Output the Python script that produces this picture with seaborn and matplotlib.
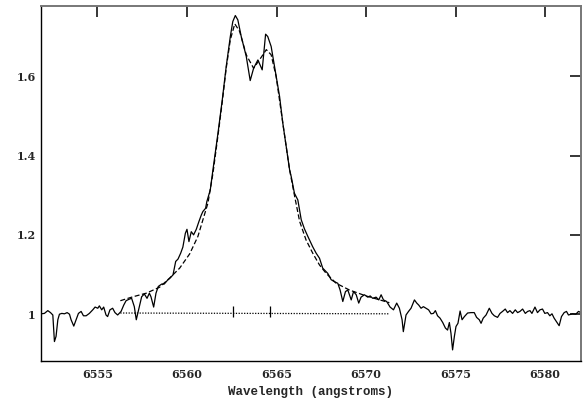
import matplotlib
matplotlib.use("Agg")
import matplotlib.pyplot as plt
import seaborn as sns
import pandas as pd

# Observed spectrum (wavelength in angstroms, normalized flux)
obs_wave = [6551.86, 6552.04, 6552.23, 6552.38, 6552.51, 6552.60, 6552.69, 6552.79, 6552.88, 6553.01,
            6553.16, 6553.31, 6553.44, 6553.53, 6553.68, 6553.81, 6553.94, 6554.09, 6554.22, 6554.37,
            6554.55, 6554.74, 6554.87, 6555.02, 6555.11, 6555.24, 6555.35, 6555.48, 6555.57, 6555.70,
            6555.85, 6555.98, 6556.13, 6556.32, 6556.47, 6556.60, 6556.78, 6556.91, 6557.06, 6557.17,
            6557.34, 6557.47, 6557.62, 6557.77, 6557.90, 6557.99, 6558.14, 6558.27, 6558.40, 6558.59,
            6558.73, 6558.92, 6559.03, 6559.22, 6559.37, 6559.50, 6559.65, 6559.77, 6559.91, 6560.00,
            6560.11, 6560.24, 6560.37, 6560.52, 6560.67, 6560.80, 6560.89, 6561.04, 6561.11, 6561.22,
            6561.30, 6561.45, 6561.73, 6561.97, 6562.19, 6562.42, 6562.56, 6562.70, 6562.84, 6563.03,
            6563.31, 6563.53, 6563.72, 6563.96, 6564.20, 6564.39, 6564.51, 6564.70, 6564.98, 6565.17,
            6565.35, 6565.54, 6565.73, 6565.82, 6566.00, 6566.19, 6566.38, 6566.56, 6566.75, 6567.02,
            6567.21, 6567.40, 6567.58, 6567.86, 6568.05, 6568.23, 6568.42, 6568.55, 6568.70, 6568.85,
            6568.98, 6569.17, 6569.30, 6569.45, 6569.59, 6569.72, 6569.91, 6570.09, 6570.23, 6570.37,
            6570.56, 6570.71, 6570.84, 6570.97, 6571.15, 6571.34, 6571.53, 6571.71, 6571.86, 6572.01,
            6572.08, 6572.23, 6572.37, 6572.51, 6572.70, 6572.83, 6572.94, 6573.07, 6573.20, 6573.35,
            6573.49, 6573.63, 6573.76, 6573.87, 6573.99, 6574.13, 6574.28, 6574.43, 6574.55, 6574.65,
            6574.74, 6574.83, 6574.93, 6575.02, 6575.13, 6575.25, 6575.36, 6575.49, 6575.67, 6575.86,
            6576.04, 6576.17, 6576.32, 6576.42, 6576.54, 6576.70, 6576.88, 6577.03, 6577.16, 6577.34,
            6577.48, 6577.62, 6577.77, 6577.90, 6578.03, 6578.18, 6578.33, 6578.46, 6578.59, 6578.74,
            6578.89, 6579.02, 6579.15, 6579.26, 6579.43, 6579.57, 6579.71, 6579.85, 6579.98, 6580.13,
            6580.26, 6580.38, 6580.50, 6580.63, 6580.78, 6580.91, 6581.06, 6581.19, 6581.30, 6581.52,
            6581.71, 6581.86, 6582.00]
obs_flux = [1.001, 1.002, 1.009, 1.004, 0.998, 0.931, 0.944, 0.986, 1.000, 1.002,
            1.001, 1.004, 1.000, 0.986, 0.970, 0.986, 1.002, 1.007, 0.996, 0.996,
            1.002, 1.011, 1.018, 1.015, 1.021, 1.011, 1.018, 0.998, 0.994, 1.011,
            1.015, 1.004, 0.998, 1.007, 1.023, 1.034, 1.038, 1.040, 1.019, 0.986,
            1.019, 1.044, 1.051, 1.040, 1.053, 1.044, 1.018, 1.053, 1.070, 1.076,
            1.076, 1.086, 1.090, 1.099, 1.133, 1.139, 1.154, 1.169, 1.204, 1.214,
            1.183, 1.208, 1.200, 1.214, 1.234, 1.250, 1.259, 1.267, 1.284, 1.301,
            1.313, 1.364, 1.456, 1.540, 1.624, 1.700, 1.738, 1.753, 1.742, 1.700,
            1.650, 1.589, 1.620, 1.641, 1.616, 1.706, 1.700, 1.675, 1.599, 1.549,
            1.482, 1.423, 1.364, 1.347, 1.305, 1.288, 1.238, 1.215, 1.196, 1.170,
            1.154, 1.141, 1.116, 1.103, 1.087, 1.082, 1.078, 1.061, 1.032, 1.057,
            1.061, 1.036, 1.057, 1.049, 1.028, 1.043, 1.049, 1.043, 1.046, 1.040,
            1.043, 1.036, 1.049, 1.036, 1.032, 1.018, 1.011, 1.028, 1.015, 0.986,
            0.956, 0.998, 1.007, 1.015, 1.036, 1.028, 1.023, 1.015, 1.019, 1.015,
            1.011, 1.001, 1.002, 1.009, 0.996, 0.990, 0.979, 0.965, 0.960, 0.979,
            0.952, 0.910, 0.944, 0.969, 0.977, 1.008, 0.986, 0.994, 1.003, 1.004,
            1.004, 0.992, 0.986, 0.977, 0.990, 0.998, 1.015, 1.002, 0.996, 0.992,
            1.002, 1.007, 1.013, 1.004, 1.009, 1.002, 1.011, 1.004, 1.007, 1.013,
            1.002, 1.007, 1.009, 1.002, 1.018, 1.004, 1.011, 1.013, 1.002, 1.004,
            0.996, 1.001, 0.990, 0.981, 0.971, 0.994, 1.004, 1.007, 0.998, 1.001,
            1.000, 1.007, 1.004]

# Fitted profile (dashed)
fit_wave = [6556.28, 6556.99, 6557.73, 6558.47, 6559.03, 6559.59, 6560.15, 6560.61, 6560.89, 6561.17,
            6561.45, 6561.73, 6561.97, 6562.19, 6562.42, 6562.67, 6562.94, 6563.31, 6563.72, 6564.15,
            6564.43, 6564.70, 6564.98, 6565.35, 6565.73, 6566.00, 6566.29, 6566.65, 6567.02, 6567.40,
            6567.77, 6568.33, 6569.07, 6570.00, 6571.30]
fit_flux = [1.034, 1.044, 1.053, 1.068, 1.091, 1.116, 1.152, 1.196, 1.238, 1.280,
            1.355, 1.450, 1.535, 1.620, 1.692, 1.732, 1.713, 1.654, 1.620, 1.648,
            1.667, 1.654, 1.599, 1.482, 1.364, 1.300, 1.234, 1.187, 1.154, 1.124,
            1.103, 1.078, 1.061, 1.046, 1.029]

# Continuum (dotted)
cont_wave = [6556.28, 6571.30]
cont_flux = [1.003, 1.001]

# Component centre markers
line_centers = [6562.56, 6564.61]
marker_level = 1.006
marker_half = 0.014

x_ticks = [6555, 6560, 6565, 6570, 6575, 6580]
x_labels = ["6555", "6560", "6565", "6570", "6575", "6580"]
y_ticks = [1.0, 1.2, 1.4, 1.6]
y_labels = ["1", "1.2", "1.4", "1.6"]

sns.set_style("white")

fig = plt.figure(figsize=(5.87, 4.05), dpi=100)
ax = fig.add_axes([41 / 587, 1 - 361 / 405, 540 / 587, 355 / 405])

obs = pd.DataFrame({"wave": obs_wave, "flux": obs_flux})
fit = pd.DataFrame({"wave": fit_wave, "flux": fit_flux})
cont = pd.DataFrame({"wave": cont_wave, "flux": cont_flux})

sns.lineplot(data=obs, x="wave", y="flux", ax=ax, color="black", lw=0.9,
             sort=False, estimator=None)
sns.lineplot(data=fit, x="wave", y="flux", ax=ax, color="black", lw=0.9,
             sort=False, estimator=None, dashes=False, linestyle=(0, (4, 2)))
sns.lineplot(data=cont, x="wave", y="flux", ax=ax, color="black", lw=0.9,
             sort=False, estimator=None, linestyle=(0, (1, 1.2)))

for c in line_centers:
    ax.vlines(c, marker_level - marker_half, marker_level + marker_half,
              color="black", lw=0.9)

ax.set_xlim(6551.85, 6582.0)
ax.set_ylim(0.882, 1.777)

ax.set_xticks(x_ticks)
ax.set_xticklabels(x_labels)
ax.set_yticks(y_ticks)
ax.set_yticklabels(y_labels)

tick_font = dict(family="DejaVu Serif", weight="bold", size=8)
for lab in ax.get_xticklabels() + ax.get_yticklabels():
    lab.set_fontfamily("DejaVu Serif")
    lab.set_fontweight("bold")
    lab.set_fontsize(8)

ax.tick_params(axis="both", which="major", direction="in", top=True, right=True,
               length=8, width=1.1, color="black")
ax.tick_params(axis="x", pad=6)
ax.tick_params(axis="y", pad=4)

ax.set_xlabel("Wavelength (angstroms)", family="Liberation Mono", weight="bold",
              size=9, labelpad=4)
ax.set_ylabel("")

for side in ["left", "bottom"]:
    ax.spines[side].set_color("black")
    ax.spines[side].set_linewidth(1.0)
for side in ["top", "right"]:
    ax.spines[side].set_color("#777777")
    ax.spines[side].set_linewidth(1.4)

fig.savefig("out.png", dpi=100)
